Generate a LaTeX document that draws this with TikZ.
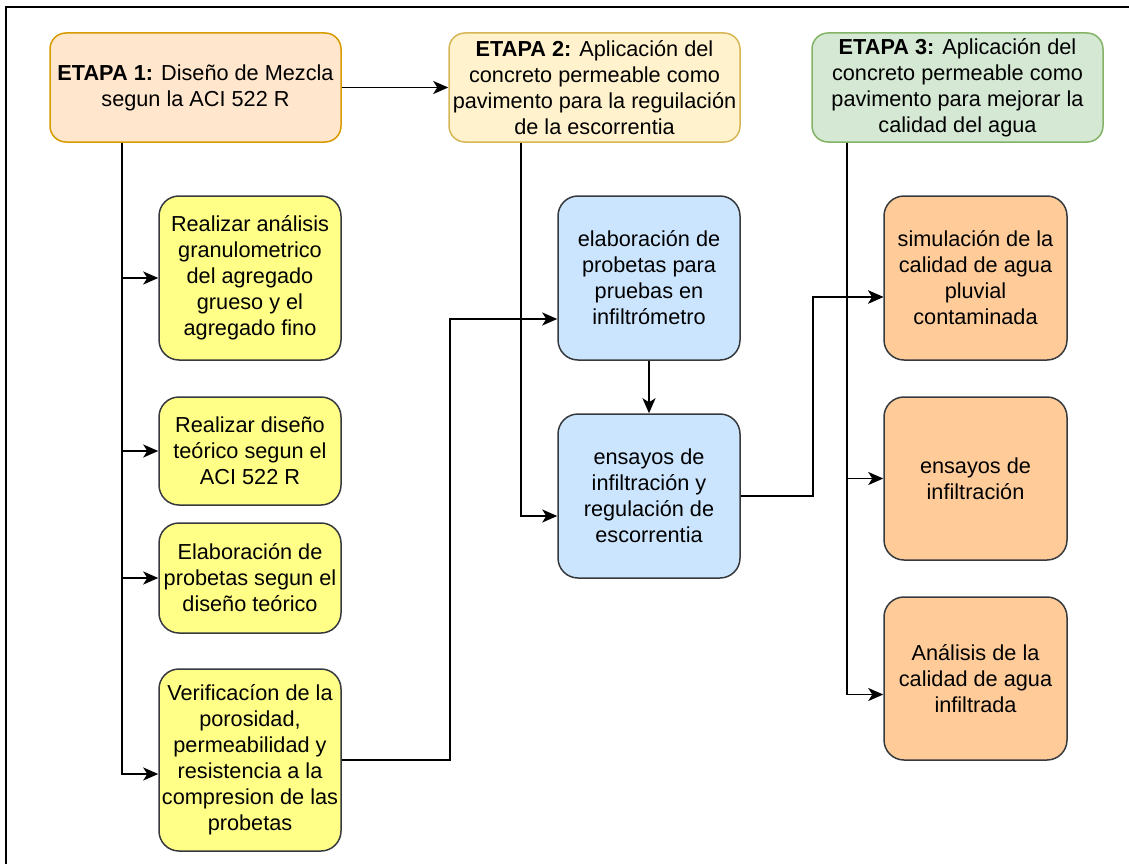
\documentclass[tikz,border=0pt]{standalone}
\usepackage{fontspec}
\setmainfont{Liberation Sans}
\usetikzlibrary{arrows.meta,calc}
\definecolor{e1fill}{HTML}{FFE6CC}\definecolor{e1line}{HTML}{D79B00}
\definecolor{e2fill}{HTML}{FFF2CC}\definecolor{e2line}{HTML}{D6B656}
\definecolor{e3fill}{HTML}{D5E8D4}\definecolor{e3line}{HTML}{82B366}
\definecolor{yfill}{HTML}{FFFF88}\definecolor{bfill}{HTML}{CCE5FF}
\definecolor{ofill}{HTML}{FFCC99}\definecolor{gline}{HTML}{36393D}
\begin{document}
\begin{tikzpicture}[x=1pt,y=-1pt,
  every node/.style={font=\fontsize{21.7}{26}\selectfont},
  basebox/.style={draw, align=center, inner sep=0pt, line width=1.5pt, rounded corners=20pt},
  etapa/.style={basebox, minimum width=291pt, minimum height=109pt, rounded corners=16pt},
  ybox/.style={basebox, fill=yfill, draw=gline, minimum width=182pt},
  bbox/.style={basebox, fill=bfill, draw=gline, minimum width=182pt},
  obox/.style={basebox, fill=ofill, draw=gline, minimum width=183pt},
  arr/.style={line width=1.8pt, -{Stealth[length=15pt,width=13pt,inset=4pt]}},
  ln/.style={line width=1.8pt}]
\useasboundingbox (0,0) rectangle (1129,864);
\draw[line width=2.2pt] (6,864) -- (6,7) -- (1129,7);
% stage boxes
\node[etapa, fill=e1fill, draw=e1line] (E1) at (195.5,87.5) {\textbf{ETAPA 1:} Diseño de Mezcla\\segun la ACI 522 R};
\node[etapa, fill=e2fill, draw=e2line] (E2) at (594.5,87.5) {\textbf{ETAPA 2:} Aplicación del\\concreto permeable como\\pavimento para la reguilación\\de la escorrentia};
\node[etapa, fill=e3fill, draw=e3line] (E3) at (957.5,87.5) {\textbf{ETAPA 3:} Aplicación del\\concreto permeable como\\pavimento para mejorar la\\calidad del agua};
% yellow
\node[ybox, minimum height=164pt] (Y1) at (250,278) {Realizar análisis\\granulometrico\\del agregado\\grueso y el\\agregado fino};
\node[ybox, minimum height=108pt] (Y2) at (250,451) {Realizar diseño\\teórico segun el\\ACI 522 R};
\node[ybox, minimum height=110pt] (Y3) at (250,578) {Elaboración de\\probetas segun el\\diseño teórico};
\node[ybox, minimum height=182pt] (Y4) at (250,760) {Verificacíon de la\\porosidad,\\permeabilidad y\\resistencia a la\\compresion de las\\probetas};
% blue
\node[bbox, minimum height=164pt] (B1) at (649,278) {elaboración de\\probetas para\\pruebas en\\infiltrómetro};
\node[bbox, minimum height=164pt] (B2) at (649,496) {ensayos de\\infiltración y\\regulación de\\escorrentia};
% orange
\node[obox, minimum height=164pt] (O1) at (975.5,278) {simulación de la\\calidad de agua\\pluvial\\contaminada};
\node[obox, minimum height=163pt] (O2) at (975.5,478.5) {ensayos de\\infiltración};
\node[obox, minimum height=163pt] (O3) at (975.5,678.5) {Análisis de la\\calidad de agua\\infiltrada};
% connectors
\coordinate (t1) at ($(E1.south west)+(73,0)$);
\coordinate (t2) at ($(E2.south west)+(73,0)$);
\coordinate (t3) at ($(E3.south west)+(36,0)$);
\draw[arr] (E1.east) -- (E2.west);
\draw[arr] (t1) |- (Y1.west);
\draw[arr] (t1) |- (Y2.west);
\draw[arr] (t1) |- (Y3.west);
\draw[arr] (t1) |- ($(Y4.west)+(0,14)$);
\draw[arr] (t2) |- ($(B2.west)+(0,20)$);
\draw[arr] (Y4.east) -- ++(108,0) |- ($(B1.west)+(0,41)$);
\draw[arr] (B1.south) -- (B2.north);
\draw[arr] (B2.east) -- ++(72,0) |- ($(O1.west)+(0,19)$);
\draw[arr] (t3) |- ($(O1.west)+(0,19)$);
\draw[arr] (t3) |- (O2.west);
\draw[arr] (t3) |- ($(O3.west)+(0,16)$);
\end{tikzpicture}
\end{document}
